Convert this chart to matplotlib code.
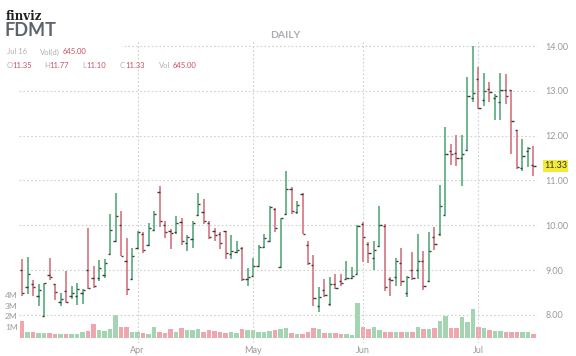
import matplotlib.pyplot as plt
from matplotlib.patches import Rectangle
import numpy as np

# daily OHLC (last bar = Jul 16)
opens = [9.00, 8.62, 8.68, 8.42, 7.97, 8.90, 8.68, 8.30, 8.53, 8.42,
         8.42, 8.50, 9.00, 8.83, 8.83, 8.90, 9.36, 9.65, 10.00, 9.20,
         8.80, 9.50, 9.80, 9.55, 9.90, 10.75, 10.00, 9.88, 9.85, 10.08,
         9.60, 9.70, 10.22, 10.30, 10.05, 9.88, 9.80, 9.87, 9.35, 9.40,
         9.50, 8.80, 8.87, 9.10, 9.52, 9.65, 10.37, 9.07, 10.25, 10.80,
         10.30, 10.70, 9.55, 9.11, 8.19, 8.55, 8.25, 8.70, 8.75, 8.80,
         8.83, 8.91, 10.03, 9.58, 9.28, 9.53, 9.98, 8.80, 8.85, 9.15,
         8.50, 9.00, 9.00, 9.20, 8.76, 9.75, 9.80, 10.22, 11.65, 11.62,
         11.50, 11.68, 12.85, 13.26, 12.80, 13.05, 12.85, 12.75, 13.02, 13.01,
         12.12, 11.28, 11.65, 11.35]
highs = [9.25, 9.30, 8.77, 8.68, 8.72, 9.28, 8.68, 8.49, 8.98, 8.64,
         8.72, 8.58, 9.93, 9.09, 9.22, 9.24, 10.25, 10.71, 10.32, 9.72,
         9.50, 9.88, 9.85, 10.05, 10.32, 10.87, 10.10, 9.91, 10.21, 10.17,
         9.78, 10.10, 10.73, 10.58, 10.10, 9.95, 9.84, 9.88, 9.78, 9.65,
         9.51, 9.05, 9.28, 9.55, 9.80, 10.43, 10.38, 10.17, 11.22, 10.85,
         10.54, 10.72, 9.66, 9.34, 8.63, 8.80, 8.84, 8.91, 8.91, 9.21,
         9.06, 10.00, 10.08, 9.62, 9.66, 10.44, 10.03, 8.84, 9.28, 9.49,
         8.87, 9.40, 9.81, 9.43, 9.86, 9.96, 10.89, 12.19, 11.82, 12.02,
         12.02, 13.30, 14.00, 13.54, 13.39, 13.19, 12.94, 13.39, 13.37, 13.01,
         12.12, 11.93, 11.75, 11.77]
lows = [8.42, 8.46, 8.42, 8.19, 7.95, 8.78, 8.34, 8.21, 8.27, 8.36,
        8.23, 8.25, 8.57, 8.60, 8.75, 8.83, 9.35, 9.65, 9.31, 8.45,
        8.79, 9.48, 9.39, 9.54, 9.87, 9.96, 9.72, 9.48, 9.80, 9.57,
        9.43, 9.50, 10.20, 10.02, 9.70, 9.66, 9.48, 9.24, 9.24, 9.39,
        8.75, 8.64, 8.87, 9.09, 9.50, 9.65, 9.84, 9.07, 10.23, 10.25,
        10.25, 9.80, 9.12, 8.20, 8.07, 8.39, 8.19, 8.57, 8.65, 8.80,
        8.80, 8.91, 9.19, 9.17, 9.01, 9.52, 8.54, 8.43, 8.65, 8.65,
        8.41, 8.78, 8.80, 8.56, 8.74, 9.46, 9.77, 10.22, 11.34, 11.32,
        10.87, 11.66, 12.75, 12.59, 12.66, 12.75, 12.34, 12.34, 12.71, 11.60,
        11.26, 11.22, 11.30, 11.10]
closes = [8.50, 8.92, 8.62, 8.55, 8.72, 8.85, 8.52, 8.35, 8.29, 8.49,
          8.58, 8.56, 8.60, 8.64, 9.05, 9.16, 9.90, 10.20, 9.32, 8.58,
          9.32, 9.85, 9.45, 9.95, 10.25, 10.10, 9.85, 9.82, 10.05, 9.65,
          9.75, 10.05, 10.48, 10.10, 9.75, 9.78, 9.60, 9.38, 9.42, 9.45,
          8.80, 8.85, 9.09, 9.52, 9.72, 10.40, 9.93, 10.17, 10.80, 10.33,
          10.45, 9.81, 9.16, 8.37, 8.39, 8.45, 8.69, 8.60, 8.72, 8.83,
          8.87, 9.98, 9.73, 9.38, 9.45, 10.00, 8.63, 8.78, 9.20, 8.75,
          8.85, 8.82, 9.20, 8.65, 9.42, 9.58, 10.42, 11.60, 11.58, 11.50,
          11.60, 12.88, 12.95, 12.62, 13.00, 12.98, 12.88, 13.02, 12.88, 12.32,
          11.30, 11.54, 11.72, 11.33]
# volume in millions
volume_m = [1.56, 0.60, 0.55, 0.50, 0.50, 0.45, 0.36, 0.40, 0.40, 0.33,
            0.40, 0.55, 0.65, 1.25, 0.75, 0.65, 0.80, 2.10, 1.05, 1.05,
            0.60, 0.60, 0.50, 0.36, 1.00, 0.60, 0.45, 0.85, 0.55, 0.95,
            0.75, 0.75, 0.80, 0.55, 0.75, 0.65, 0.60, 0.50, 0.60, 0.45,
            0.80, 0.75, 0.75, 0.60, 0.60, 0.65, 0.70, 0.80, 0.90, 0.45,
            0.36, 0.40, 0.60, 0.95, 0.80, 0.50, 0.50, 0.45, 0.40, 0.33,
            0.25, 3.20, 1.00, 0.87, 1.00, 0.75, 0.60, 0.60, 0.60, 0.60,
            0.60, 0.60, 1.00, 0.85, 0.85, 0.95, 1.60, 2.00, 0.95, 0.95,
            1.95, 1.50, 2.70, 1.05, 0.90, 0.75, 0.65, 0.65, 0.60, 0.60,
            0.60, 0.60, 0.55, 0.36]

month_labels = ["Apr", "May", "Jun", "Jul"]
month_index = [21, 42, 62, 83]
price_ticks = [8, 9, 10, 11, 12, 13, 14]
vol_ticks = [1, 2, 3, 4]
last_price = 11.33

GREEN = "#62b085"
RED = "#d97e89"
VOL_GREEN = "#a3d5b3"
VOL_RED = "#f0a6ae"
GRID = "#cfcfcf"
LABEL = "#9a9a9a"
NUM_RED = "#c9505f"

W, H = 576, 356
fig = plt.figure(figsize=(W / 100, H / 100), dpi=100)
plt.rcParams['font.family'] = ['Lato', 'DejaVu Sans']


def px_box(l, t, r, b):
    return [l / W, 1 - b / H, (r - l) / W, (b - t) / H]


ax = fig.add_axes(px_box(19, 40, 537, 343))
axv = ax.twinx()  # volume sits on a twin axis underneath
x = np.arange(len(opens))
o = np.array(opens)
c = np.array(closes)
up = c >= o
cols = np.where(up, GREEN, RED)

ax.set_xlim(-0.55, 93.64)
ax.set_ylim(7.375, 14.134)

ax.vlines(x, lows, highs, colors=cols, lw=1.3, zorder=3)
ax.hlines(o, x - 0.45, x, colors="#3a3a3a", lw=1.0, zorder=4)
ax.hlines(c, x, x + 0.45, colors="#3a3a3a", lw=1.0, zorder=4)

ax.yaxis.tick_right()
ax.set_yticks(price_ticks, [f"{p:.2f}" for p in price_ticks])
ax.set_xticks(month_index, month_labels)
ax.tick_params(axis="y", length=0, pad=6, labelsize=6.5, labelcolor=LABEL)
ax.tick_params(axis="x", length=0, pad=2, labelsize=6.5, labelcolor=LABEL)
ax.grid(True, color=GRID, linestyle=(0, (1.5, 2)), lw=0.8)
for s in ax.spines.values():
    s.set_visible(False)

axv.set_ylim(-0.463, 27.59)
axv.bar(x, volume_m, width=0.78, color=np.where(up, VOL_GREEN, VOL_RED), zorder=1)
axv.yaxis.tick_left()
axv.yaxis.set_label_position("left")
axv.set_yticks(vol_ticks, [f"{v}M" for v in vol_ticks])
axv.tick_params(axis="y", length=0, pad=1, labelsize=6, labelcolor=LABEL)
for s in axv.spines.values():
    s.set_visible(False)
axv.set_zorder(ax.get_zorder() - 1)
axv.patch.set_visible(True)
axv.patch.set_facecolor("white")
ax.patch.set_visible(False)

# last price badge
ax.annotate(f"{last_price:.2f}", xy=(1, last_price), xycoords=ax.get_yaxis_transform(),
            xytext=(7, 0), textcoords="offset pixels", ha="left", va="center",
            fontsize=6.5, color="#333333", zorder=6,
            bbox=dict(boxstyle="square,pad=0.15", fc="#f4ea3a", ec="none"))

# header
fig.add_artist(Rectangle((0, 1 - 58 / H), 122 / W, 20 / H, transform=fig.transFigure,
                         fc="white", ec="none", zorder=2))


def ftext(xp, yp, s, **kw):
    fig.text(xp / W, 1 - yp / H, s, va="center", zorder=5, **kw)


ftext(6, 17, "finviz", fontsize=8.5, weight="bold", family="DejaVu Serif", color="#222222")
ftext(5, 31, "FDMT", fontsize=13, weight="bold", color="#5d636b")
ftext(285, 36, "DAILY", fontsize=7.5, weight="bold", color="#a8acb4", ha="center")
ftext(7, 52, "Jul 16", fontsize=5.5, color="#b0b0b0")
ftext(40, 52, "Vol(d)", fontsize=5.5, color="#b0b0b0")
ftext(63, 52, "645.00", fontsize=5.5, color=NUM_RED)
for lx, lab, vx, val in [(7, "O", 12, "11.35"), (44, "H", 49, "11.77"),
                         (82, "L", 86, "11.10"), (120, "C", 125, "11.33"),
                         (159, "Vol", 173, "645.00")]:
    ftext(lx, 65, lab, fontsize=5.5, color="#b0b0b0")
    ftext(vx, 65, val, fontsize=5.5, color=NUM_RED)

fig.savefig("out.png", dpi=100)
